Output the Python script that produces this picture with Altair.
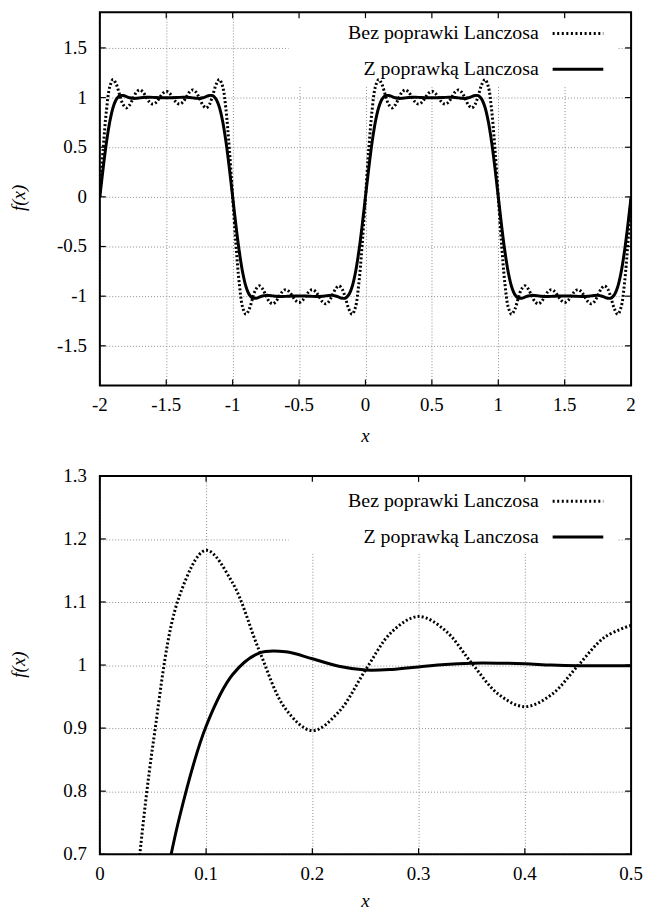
import altair as alt
import pandas as pd

x_start, x_step, n_points = -2.0, 0.025, 161

bez_poprawki = [
    # x = -2.000 .. -1.000
    0.000, 0.483, 0.874, 1.110, 1.182, 1.130, 1.023, 0.930, 0.896, 0.926,
    0.992, 1.053, 1.077, 1.055, 1.003, 0.954, 0.934, 0.953, 0.999, 1.044,
    1.063, 1.044, 0.999, 0.953, 0.934, 0.954, 1.003, 1.055, 1.077, 1.053,
    0.992, 0.926, 0.896, 0.930, 1.023, 1.130, 1.182, 1.110, 0.874, 0.483,
    0.000,
    # x = -0.975 .. 0.000
    -0.483, -0.874, -1.110, -1.182, -1.130, -1.023, -0.930, -0.896, -0.926, -0.992,
    -1.053, -1.077, -1.055, -1.003, -0.954, -0.934, -0.953, -0.999, -1.044, -1.063,
    -1.044, -0.999, -0.953, -0.934, -0.954, -1.003, -1.055, -1.077, -1.053, -0.992,
    -0.926, -0.896, -0.930, -1.023, -1.130, -1.182, -1.110, -0.874, -0.483, 0.000,
    # x = 0.025 .. 1.000
    0.483, 0.874, 1.110, 1.182, 1.130, 1.023, 0.930, 0.896, 0.926, 0.992,
    1.053, 1.077, 1.055, 1.003, 0.954, 0.934, 0.953, 0.999, 1.044, 1.063,
    1.044, 0.999, 0.953, 0.934, 0.954, 1.003, 1.055, 1.077, 1.053, 0.992,
    0.926, 0.896, 0.930, 1.023, 1.130, 1.182, 1.110, 0.874, 0.483, 0.000,
    # x = 1.025 .. 2.000
    -0.483, -0.874, -1.110, -1.182, -1.130, -1.023, -0.930, -0.896, -0.926, -0.992,
    -1.053, -1.077, -1.055, -1.003, -0.954, -0.934, -0.953, -0.999, -1.044, -1.063,
    -1.044, -0.999, -0.953, -0.934, -0.954, -1.003, -1.055, -1.077, -1.053, -0.992,
    -0.926, -0.896, -0.930, -1.023, -1.130, -1.182, -1.110, -0.874, -0.483, 0.000,
]

z_poprawka = [
    # x = -2.000 .. -1.000
    0.000, 0.290, 0.551, 0.759, 0.903, 0.985, 1.019, 1.021, 1.010, 0.998,
    0.992, 0.993, 0.997, 1.001, 1.003, 1.003, 1.002, 1.000, 0.999, 0.999,
    0.999, 0.999, 0.999, 1.000, 1.002, 1.003, 1.003, 1.001, 0.997, 0.993,
    0.992, 0.998, 1.010, 1.021, 1.019, 0.985, 0.903, 0.759, 0.551, 0.290,
    0.000,
    # x = -0.975 .. 0.000
    -0.290, -0.551, -0.759, -0.903, -0.985, -1.019, -1.021, -1.010, -0.998, -0.992,
    -0.993, -0.997, -1.001, -1.003, -1.003, -1.002, -1.000, -0.999, -0.999, -0.999,
    -0.999, -0.999, -1.000, -1.002, -1.003, -1.003, -1.001, -0.997, -0.993, -0.992,
    -0.998, -1.010, -1.021, -1.019, -0.985, -0.903, -0.759, -0.551, -0.290, 0.000,
    # x = 0.025 .. 1.000
    0.290, 0.551, 0.759, 0.903, 0.985, 1.019, 1.021, 1.010, 0.998, 0.992,
    0.993, 0.997, 1.001, 1.003, 1.003, 1.002, 1.000, 0.999, 0.999, 0.999,
    0.999, 0.999, 1.000, 1.002, 1.003, 1.003, 1.001, 0.997, 0.993, 0.992,
    0.998, 1.010, 1.021, 1.019, 0.985, 0.903, 0.759, 0.551, 0.290, 0.000,
    # x = 1.025 .. 2.000
    -0.290, -0.551, -0.759, -0.903, -0.985, -1.019, -1.021, -1.010, -0.998, -0.992,
    -0.993, -0.997, -1.001, -1.003, -1.003, -1.002, -1.000, -0.999, -0.999, -0.999,
    -0.999, -0.999, -1.000, -1.002, -1.003, -1.003, -1.001, -0.997, -0.993, -0.992,
    -0.998, -1.010, -1.021, -1.019, -0.985, -0.903, -0.759, -0.551, -0.290, 0.000,
]

x_ticks_top = [-2, -1.5, -1, -0.5, 0, 0.5, 1, 1.5, 2]
x_labels_top = ["-2", "-1.5", "-1", "-0.5", "0", "0.5", "1", "1.5", "2"]
y_ticks_top = [-1.5, -1, -0.5, 0, 0.5, 1, 1.5]
y_labels_top = ["-1.5", "-1", "-0.5", "0", "0.5", "1", "1.5"]
x_ticks_bottom = [0, 0.1, 0.2, 0.3, 0.4, 0.5]
x_labels_bottom = ["0", "0.1", "0.2", "0.3", "0.4", "0.5"]
y_ticks_bottom = [0.7, 0.8, 0.9, 1.0, 1.1, 1.2, 1.3]
y_labels_bottom = ["0.7", "0.8", "0.9", "1", "1.1", "1.2", "1.3"]
legend_labels = ["Bez poprawki Lanczosa", "Z poprawką Lanczosa"]
x_title, y_title = "x", "f(x)"

xs = [round(x_start + x_step * i, 3) for i in range(n_points)]
df = pd.DataFrame({"x": xs, "bez": bez_poprawki, "z": z_poprawka})

FONT = "Liberation Serif"
W = 535
TICK = 6
GRID = dict(gridColor="#8c8c8c", gridDash=[1, 2], gridWidth=1, grid=True,
            ticks=False, domain=False, labels=False, title=None)


def panel(xdom, ydom, xticks, xlabels, yticks, ylabels, H, row1, row2, box_bottom,
          xtitle_base, ytitle_y, filt=None):
    xscale = alt.Scale(domain=xdom, nice=False, zero=False)
    yscale = alt.Scale(domain=ydom, nice=False, zero=False)
    xaxis = alt.Axis(values=xticks, **GRID)
    yaxis = alt.Axis(values=yticks, **GRID)
    one = pd.DataFrame({"a": [0]})

    base = alt.Chart(df)
    if filt:
        base = base.transform_filter(filt)

    box = alt.Chart(one).mark_rect(fill="white").encode(
        x=alt.value(190), x2=alt.value(521), y=alt.value(0), y2=alt.value(box_bottom))

    line_bez = base.mark_line(color="black", strokeWidth=3, strokeDash=[2, 2.2],
                              interpolate="catmull-rom", clip=True).encode(
        x=alt.X("x:Q", scale=xscale, axis=xaxis),
        y=alt.Y("bez:Q", scale=yscale, axis=yaxis))
    line_z = base.mark_line(color="black", strokeWidth=3,
                            interpolate="catmull-rom", clip=True).encode(
        x=alt.X("x:Q", scale=xscale, axis=xaxis),
        y=alt.Y("z:Q", scale=yscale, axis=yaxis))

    xt = alt.Chart(pd.DataFrame({"x": xticks, "label": xlabels}))
    yt = alt.Chart(pd.DataFrame({"y": yticks, "label": ylabels}))
    tb = xt.mark_rule(color="black", strokeWidth=1.2).encode(
        x=alt.X("x:Q", scale=xscale, axis=xaxis), y=alt.value(H), y2=alt.value(H - TICK))
    tt = xt.mark_rule(color="black", strokeWidth=1.2).encode(
        x=alt.X("x:Q", scale=xscale, axis=xaxis), y=alt.value(0), y2=alt.value(TICK))
    tl = yt.mark_rule(color="black", strokeWidth=1.2).encode(
        y=alt.Y("y:Q", scale=yscale, axis=yaxis), x=alt.value(0), x2=alt.value(TICK))
    tr = yt.mark_rule(color="black", strokeWidth=1.2).encode(
        y=alt.Y("y:Q", scale=yscale, axis=yaxis), x=alt.value(W), x2=alt.value(W - TICK))

    xl = xt.mark_text(font=FONT, fontSize=19, align="center", baseline="middle",
                      color="black").encode(
        x=alt.X("x:Q", scale=xscale, axis=xaxis), y=alt.value(H + 20), text="label:N")
    yl = yt.mark_text(font=FONT, fontSize=19, align="right", baseline="middle",
                      color="black").encode(
        y=alt.Y("y:Q", scale=yscale, axis=yaxis), x=alt.value(-13), text="label:N")

    xtl = alt.Chart(pd.DataFrame({"t": [x_title]})).mark_text(
        font=FONT, fontSize=19, fontStyle="italic", align="center", baseline="alphabetic",
        color="black").encode(text="t:N", x=alt.value(W / 2), y=alt.value(H + xtitle_base))
    ytl = alt.Chart(pd.DataFrame({"t": [y_title]})).mark_text(
        font=FONT, fontSize=19, fontStyle="italic", align="center", baseline="middle",
        angle=270, color="black").encode(text="t:N", x=alt.value(-81), y=alt.value(ytitle_y))

    frame = alt.Chart(one).mark_rect(filled=False, stroke="black", strokeWidth=2).encode(
        x=alt.value(0), x2=alt.value(W), y=alt.value(0), y2=alt.value(H))

    t1 = alt.Chart(pd.DataFrame({"label": [legend_labels[0]]})).mark_text(
        align="right", baseline="alphabetic", font=FONT, fontSize=20, color="black").encode(
        text="label:N", x=alt.value(442), y=alt.value(row1 + 6))
    t2 = alt.Chart(pd.DataFrame({"label": [legend_labels[1]]})).mark_text(
        align="right", baseline="alphabetic", font=FONT, fontSize=20, color="black").encode(
        text="label:N", x=alt.value(442), y=alt.value(row2 + 6))
    s1 = alt.Chart(one).mark_rule(color="black", strokeWidth=3, strokeDash=[2, 2.6]).encode(
        x=alt.value(456), x2=alt.value(507), y=alt.value(row1))
    s2 = alt.Chart(one).mark_rule(color="black", strokeWidth=3).encode(
        x=alt.value(456), x2=alt.value(507), y=alt.value(row2))

    return alt.layer(box, line_bez, line_z, tb, tt, tl, tr, frame, xl, yl, xtl, ytl,
                     t1, t2, s1, s2).properties(width=W, height=H)


top = panel([-2, 2], [-1.9, 1.86], x_ticks_top, x_labels_top, y_ticks_top, y_labels_top,
            376, row1=21.5, row2=57.5, box_bottom=74, xtitle_base=57, ytitle_y=187)
bottom = panel([0, 0.5], [0.7, 1.3], x_ticks_bottom, x_labels_bottom, y_ticks_bottom,
               y_labels_bottom, 381, row1=25.5, row2=61.5, box_bottom=78, xtitle_base=53,
               ytitle_y=190, filt="datum.x >= -0.0001 && datum.x <= 0.5001")

chart = alt.vconcat(top, bottom, spacing=91, bounds="flush").properties(
    padding={"left": 2.5, "top": 0, "right": 0, "bottom": 0}
).configure(font=FONT).configure_view(stroke=None)

chart.save("out.html", embed_options={"renderer": "svg", "actions": False})
